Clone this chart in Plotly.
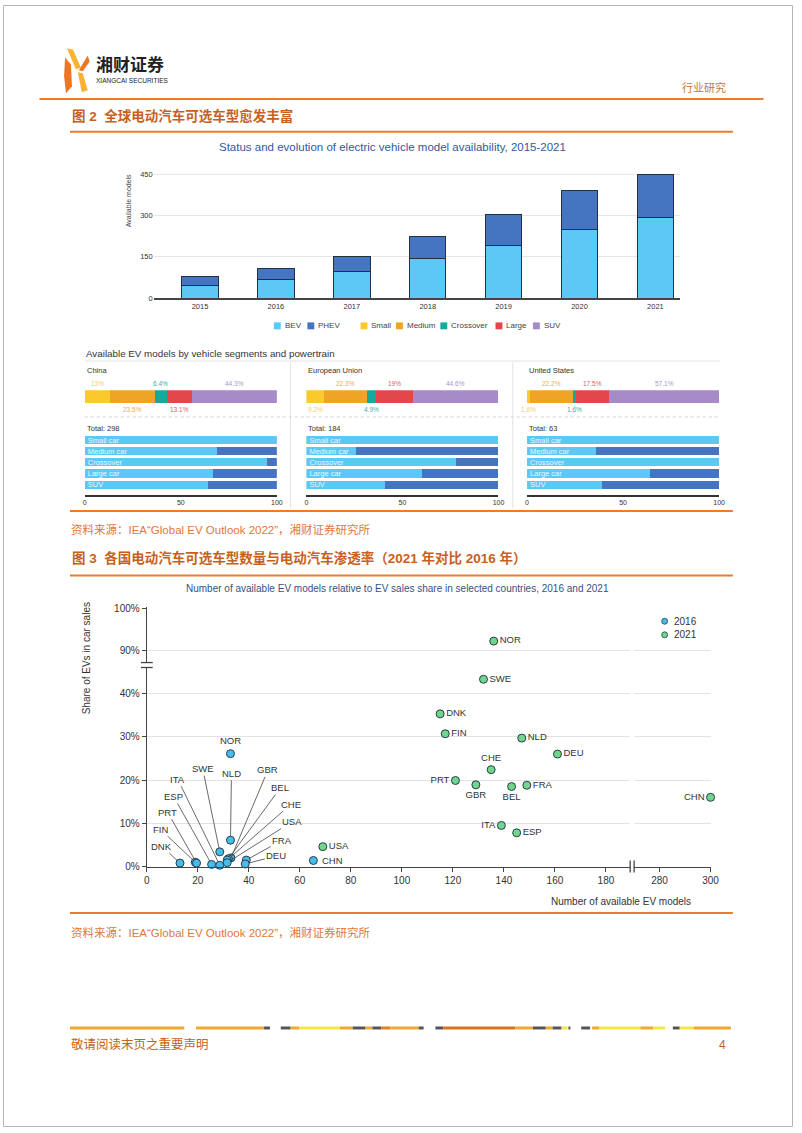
import plotly.graph_objects as go

# ---------------- data ----------------
years = ["2015", "2016", "2017", "2018", "2019", "2020", "2021"]
bev_models = [47, 68, 96, 142, 189, 249, 291]
phev_models = [32, 41, 56, 80, 116, 142, 159]

segments = ["Small", "Medium", "Crossover", "Large", "SUV"]
regions = ["China", "European Union", "United States"]
share_china = [13, 23.5, 6.4, 13.1, 44.3]
share_eu = [9.2, 22.3, 4.9, 19, 44.6]
share_us = [1.6, 22.2, 1.6, 17.5, 57.1]
totals = [298, 184, 63]

row_labels = ["Small car", "Medium car", "Crossover", "Large car", "SUV"]
bev_pct_china = [100, 69, 95, 67, 64]
bev_pct_eu = [100, 26, 78, 60, 41]
bev_pct_us = [100, 36, 100, 64, 39]

countries_2016 = ["DNK", "FIN", "PRT", "ESP", "ITA", "SWE", "NLD", "GBR", "BEL", "CHE", "USA", "FRA", "DEU", "NOR", "CHN"]
models_2016 = [13, 19, 19.5, 25.4, 28.6, 28.6, 32.8, 33, 32, 31.5, 31.5, 39, 38.6, 32.8, 65.3]
share_2016 = [0.8, 1.0, 0.8, 0.5, 0.3, 3.4, 6.1, 2.0, 1.8, 1.5, 0.9, 1.5, 0.6, 26.1, 1.4]

countries_2021 = ["NOR", "SWE", "DNK", "FIN", "NLD", "DEU", "CHE", "PRT", "GBR", "BEL", "FRA", "CHN", "ITA", "ESP", "USA"]
models_2021 = [136, 132, 115, 117, 147, 161, 135, 121, 129, 143, 149, 300, 139, 145, 69]
share_2021 = [92.3, 43.3, 35.3, 30.7, 29.7, 26.0, 22.4, 19.9, 18.9, 18.5, 18.8, 16.0, 9.5, 7.8, 4.6]

share_ticks_low = [0, 10, 20, 30, 40]
share_ticks_high = [90, 100]
model_ticks_low = [0, 20, 40, 60, 80, 100, 120, 140, 160, 180]
model_ticks_high = [280, 300]

# ---------------- styles ----------------
W, H = 802, 1133
FONT = "Liberation Sans, Arial, sans-serif"
CJK = "Liberation Sans, Noto Sans CJK SC, sans-serif"
ORANGE = "#EC7B2B"
HEAD = "#C85F22"
BEV_C, PHEV_C = "#5BC8F5", "#4575C0"
SEG_C = ["#FAC92C", "#F0A425", "#16A898", "#E3474B", "#A68BC8"]
SEG_TXT = ["#F4CF5A", "#F0AA45", "#2DB5A6", "#E65A62", "#A996CF"]
C16, C21 = "#45BDEB", "#6FD68E"
share_sides = [["up", "down", "up", "down", "up"],
               ["down", "up", "down", "up", "up"],
               ["down", "up", "down", "up", "up"]]
pos_2021 = {"NOR": "middle right", "SWE": "middle right", "DNK": "middle right", "FIN": "middle right",
            "NLD": "middle right", "DEU": "middle right", "CHE": "top center", "PRT": "middle left",
            "GBR": "bottom center", "BEL": "bottom center", "FRA": "middle right", "CHN": "middle left",
            "ITA": "middle left", "ESP": "middle right", "USA": "middle right"}
# label offsets (pixels) for 2016 leader lines
off_2016 = {"DNK": (-18, -17), "FIN": (-35, -33), "PRT": (-29, -51), "ESP": (-38, -68), "ITA": (-42, -86),
            "SWE": (-17, -83), "NLD": (1, -67), "GBR": (37, -88), "BEL": (52, -71), "CHE": (64, -56),
            "USA": (65, -41), "FRA": (36, -20), "DEU": (31, -8)}


def dom_x(a, b):
    return [a / W, b / W]


def dom_y(top, bottom):
    return [1 - bottom / H, 1 - top / H]


shapes, ann = [], []


def txt(x, y, s, size, color="#333", xanchor="left", yanchor="middle", family=FONT, angle=0):
    ann.append(dict(x=x / W, y=1 - y / H, xref="paper", yref="paper", text=s, showarrow=False,
                    xanchor=xanchor, yanchor=yanchor, textangle=angle,
                    font=dict(size=size, color=color, family=family)))


def line(x0, y0, x1, y1, color, width=1, dash="solid"):
    shapes.append(dict(type="line", xref="paper", yref="paper", x0=x0 / W, y0=1 - y0 / H,
                       x1=x1 / W, y1=1 - y1 / H, line=dict(color=color, width=width, dash=dash)))


def rect(x0, y0, x1, y1, fill, lc=None, lw=0):
    shapes.append(dict(type="rect", xref="paper", yref="paper", x0=x0 / W, y0=1 - y0 / H,
                       x1=x1 / W, y1=1 - y1 / H, fillcolor=fill,
                       line=dict(color=lc or fill, width=lw)))


def circ(cx, cy, r, fill, lc):
    shapes.append(dict(type="circle", xref="paper", yref="paper", x0=(cx - r) / W, y0=1 - (cy + r) / H,
                       x1=(cx + r) / W, y1=1 - (cy - r) / H, fillcolor=fill, line=dict(color=lc, width=0.8)))


def poly(points, color):
    d = "M " + " L ".join(f"{x / W:.5f},{1 - y / H:.5f}" for x, y in points) + " Z"
    shapes.append(dict(type="path", xref="paper", yref="paper", path=d, fillcolor=color, line=dict(width=0)))


fig = go.Figure()

# ---------------- top bar chart ----------------
xs = list(range(len(years)))
fig.add_trace(go.Bar(x=xs, y=bev_models, width=0.48, name="BEV",
                     marker=dict(color=BEV_C, line=dict(color="#22303f", width=1)), xaxis="x", yaxis="y"))
fig.add_trace(go.Bar(x=xs, y=phev_models, width=0.48, name="PHEV",
                     marker=dict(color=PHEV_C, line=dict(color="#22303f", width=1)), xaxis="x", yaxis="y"))

# ---------------- share bars & powertrain bars ----------------
shares = [share_china, share_eu, share_us]
bev_pcts = [bev_pct_china, bev_pct_eu, bev_pct_us]
panel_x = [(83, 278), (308, 503), (532, 727)]
for i in range(3):
    k = 2 + i
    for j in range(5):
        fig.add_trace(go.Bar(x=[shares[i][j]], y=[0], orientation="h", width=1, name=segments[j],
                             marker=dict(color=SEG_C[j], line=dict(width=0)),
                             xaxis=f"x{k}", yaxis=f"y{k}"))
    cum = 0
    for j, v in enumerate(shares[i]):
        mid = cum + v / 2
        cum += v
        up = share_sides[i][j] == "up"
        ann.append(dict(x=mid, y=0.5 if up else -0.5, xref=f"x{k}", yref=f"y{k}", text=f"{v:g}%",
                        showarrow=False, xanchor="center", yanchor="bottom" if up else "top",
                        yshift=1 if up else -1, font=dict(size=6.5, color=SEG_TXT[j], family=FONT)))
    k2 = 5 + i
    fig.add_trace(go.Bar(x=bev_pcts[i], y=list(range(5)), orientation="h", width=0.73, name="BEV",
                         marker=dict(color=BEV_C, line=dict(width=0)), text=row_labels,
                         textposition="inside", insidetextanchor="start", textangle=0, constraintext="none",
                         textfont=dict(color="#EAF7FD", size=7.5, family=FONT),
                         xaxis=f"x{k2}", yaxis=f"y{k2}"))
    fig.add_trace(go.Bar(x=[100 - v for v in bev_pcts[i]], y=list(range(5)), orientation="h", width=0.73,
                         name="PHEV", marker=dict(color=PHEV_C, line=dict(width=0)),
                         xaxis=f"x{k2}", yaxis=f"y{k2}"))
    txt(panel_x[i][0], 369, regions[i], 7.5, "#333")
    txt(panel_x[i][0], 428, f"Total: {totals[i]}", 7.5, "#333")

# ---------------- scatter ----------------
fig.add_trace(go.Scatter(x=models_2016, y=share_2016, mode="markers", name="2016", cliponaxis=False,
                         marker=dict(size=8, color=C16, line=dict(color="#2a3d47", width=1)),
                         xaxis="x8", yaxis="y8"))
for c, m, s in zip(countries_2016, models_2016, share_2016):
    if c in off_2016:
        dx, dy = off_2016[c]
        ann.append(dict(x=m, y=s, xref="x8", yref="y8", text=c, showarrow=True, arrowhead=0,
                        arrowwidth=0.8, arrowcolor="#444", ax=dx, ay=dy, standoff=4,
                        font=dict(size=9.5, color="#333", family=FONT)))
    elif c == "NOR":
        ann.append(dict(x=m, y=s, xref="x8", yref="y8", text=c, showarrow=False, yanchor="bottom",
                        yshift=6, font=dict(size=9.5, color="#333", family=FONT)))
    else:
        ann.append(dict(x=m, y=s, xref="x8", yref="y8", text=c, showarrow=False, xanchor="left",
                        xshift=7, font=dict(size=9.5, color="#333", family=FONT)))

groups = {}
for c, m, s in zip(countries_2021, models_2021, share_2021):
    key = ("x9" if m > 200 else "x8", "y9" if s > 60 else "y8")
    groups.setdefault(key, []).append((c, m, s))
for (xa, ya), pts in groups.items():
    fig.add_trace(go.Scatter(x=[p[1] for p in pts], y=[p[2] for p in pts], text=[p[0] for p in pts],
                             mode="markers+text", textposition=[pos_2021[p[0]] for p in pts],
                             textfont=dict(size=9.5, color="#333", family=FONT), cliponaxis=False,
                             marker=dict(size=8, color=C21, line=dict(color="#2a3d47", width=1)),
                             name="2021", xaxis=xa, yaxis=ya))
fig.add_trace(go.Scatter(x=[], y=[], mode="markers", xaxis="x9", yaxis="y9", hoverinfo="skip"))

# ---------------- decorations / page text ----------------
rect(0.5, 0.5, W - 0.5, H - 0.5, "rgba(0,0,0,0)", "#b5b5b5", 1)
# logo
poly([(65, 44), (71, 45), (79, 63), (74, 65)], "#F9B233")
poly([(63, 53), (69, 60), (70, 82), (64, 89), (62, 72)], "#EE7623")
poly([(86, 51), (88, 57), (81, 67), (77, 66)], "#EE7623")
poly([(76, 68), (81, 69), (86, 86), (80, 88)], "#F9B233")
txt(92, 61, "<b>湘财证券</b>", 17, "#222", family=CJK)
txt(92, 76, "XIANGCAI SECURITIES", 6.5, "#222")
txt(736, 83, "行业研究", 11, "#C8763C", xanchor="right", family=CJK)

line(37, 95, 772, 95, ORANGE, 2)
txt(68, 112, "<b>图 2  全球电动汽车可选车型愈发丰富</b>", 13.5, HEAD, family=CJK)
line(68, 128, 741, 128, ORANGE, 2)
txt(395, 143, "Status and evolution of electric vehicle model availability, 2015-2021", 11.5, "#34589A",
    xanchor="center")
txt(127, 198, "Available models", 7, "#444", xanchor="center", angle=-90)

# legend for top section
leg = [("BEV", BEV_C, 275), ("PHEV", PHEV_C, 309), ("Small", SEG_C[0], 363), ("Medium", SEG_C[1], 399),
       ("Crossover", SEG_C[2], 444), ("Large", SEG_C[3], 500), ("SUV", SEG_C[4], 538)]
for name, col, x0 in leg:
    rect(x0, 320.5, x0 + 7, 327.5, col)
    txt(x0 + 9, 324, name, 8, "#444")

txt(82, 352, "Available EV models by vehicle segments and powertrain", 9.8, "#333")
line(83, 359.5, 728, 359.5, "#e2e2e2", 1)
line(292, 361, 292, 508, "#e2e2e2", 1)
line(517.5, 361, 517.5, 508, "#e2e2e2", 1)
line(83, 416, 728, 416, "#d5d5d5", 1, "dot")

line(68, 511, 741, 511, ORANGE, 2)
txt(67, 530, "资料来源：IEA“Global EV Outlook 2022”，湘财证券研究所", 11.5, "#E0783A", family=CJK)
txt(68, 558, "<b>图 3  各国电动汽车可选车型数量与电动汽车渗透率（2021 年对比 2016 年）</b>", 13.5, HEAD, family=CJK)
line(68, 576, 741, 576, ORANGE, 2)
txt(400, 589, "Number of available EV models relative to EV sales share in selected countries, 2016 and 2021",
    10, "#3a5080", xanchor="center")
txt(85, 660, "Share of EVs in car sales", 10, "#333", xanchor="center", angle=-90)
txt(627, 905, "Number of available EV models", 10, "#333", xanchor="center")
# axis break marks
line(140, 664, 152, 664, "#444", 1.3)
line(140, 669, 152, 669, "#444", 1.3)
line(636.7, 864, 636.7, 876, "#444", 1.3)
line(640.7, 864, 640.7, 876, "#444", 1.3)
# scatter legend
circ(671.7, 622.3, 3, C16, "#2a3d47")
circ(671.7, 636, 3, C21, "#2a3d47")
txt(679, 622.3, "2016", 10, "#333")
txt(679, 636, "2021", 10, "#333")

line(68, 917, 741, 917, ORANGE, 2)
txt(67, 937, "资料来源：IEA“Global EV Outlook 2022”，湘财证券研究所", 11.5, "#E0783A", family=CJK)

footer_segments = [
    (68, 184, "#F0A830"), (196, 265, "#F0A830"), (265, 271, "#555"),
    (282, 292, "#555"), (292, 301, "#F0A830"), (301, 342, "#F5E642"), (342, 355, "#F0A830"),
    (355, 368, "#555"), (368, 375, "#F0A830"), (375, 384, "#555"), (384, 393, "#E08020"),
    (393, 422, "#F0A830"), (422, 427, "#555"),
    (439, 447, "#555"), (447, 520, "#D9731F"), (520, 538, "#F0A830"), (538, 551, "#555"),
    (551, 558, "#F0A830"), (558, 567, "#555"), (567, 573, "#F5E642"), (574, 576, "#555"),
    (587, 596, "#555"), (598, 605, "#F0A830"), (605, 647, "#F5E642"), (647, 660, "#F0A830"),
    (660, 672, "#F5E642"),
    (680, 687, "#555"), (687, 701, "#F5E642"), (701, 739, "#F0A830")]
for a, b, col in footer_segments:
    rect(a, 1031.5, b, 1034.5, col)
txt(67, 1050, "敬请阅读末页之重要声明", 12.5, HEAD, family=CJK)
txt(736, 1050, "4", 12, HEAD, xanchor="right", family=CJK)

# ---------------- axes ----------------
tf = lambda s: dict(size=s, color="#333", family=FONT)
hidden = dict(visible=False, showgrid=False, zeroline=False, fixedrange=True)
axes = dict(
    xaxis=dict(domain=dom_x(153, 687), range=[-0.61, 6.32], tickvals=xs, ticktext=years, showline=True,
               linecolor="#444", linewidth=1.5, ticks="", showgrid=False, zeroline=False,
               tickfont=tf(7.5), anchor="y"),
    yaxis=dict(domain=dom_y(167.9, 296), range=[0, 460], tickvals=[0, 150, 300, 450], showgrid=True,
               gridcolor="#e6e6e6", zeroline=False, showline=False, ticks="", tickfont=tf(7.5), anchor="x"),
)
for i in range(3):
    k, k2 = 2 + i, 5 + i
    axes[f"xaxis{k}"] = dict(domain=dom_x(*panel_x[i]), range=[0, sum(shares[i])], anchor=f"y{k}", **hidden)
    axes[f"yaxis{k}"] = dict(domain=dom_y(389, 402), range=[-0.5, 0.5], anchor=f"x{k}", **hidden)
    axes[f"xaxis{k2}"] = dict(domain=dom_x(*panel_x[i]), range=[0, 100], tickvals=[0, 50, 100], showline=True,
                              linecolor="#333", linewidth=2, showgrid=False, zeroline=False, ticks="",
                              tickfont=tf(7), anchor=f"y{k2}")
    axes[f"yaxis{k2}"] = dict(domain=dom_y(433.9, 494.4), range=[4.9, -0.5], anchor=f"x{k2}", **hidden)

sc_x = dict(showline=True, linecolor="#444", linewidth=1.3, ticks="outside", ticklen=4, tickcolor="#444",
            showgrid=False, zeroline=False, tickfont=tf(10), anchor="y8")
sc_y = dict(showline=True, linecolor="#444", linewidth=1.3, ticks="outside", ticklen=4, tickcolor="#444",
            showgrid=True, gridcolor="#e3e3e3", zeroline=False, tickfont=tf(10), anchor="x8")
axes["xaxis8"] = dict(domain=dom_x(146, 636.7), range=[0, 189.5], tickvals=model_ticks_low, **sc_x)
axes["xaxis9"] = dict(domain=dom_x(640.7, 718.3), range=[270, 300], tickvals=model_ticks_high, **sc_x)
axes["yaxis8"] = dict(domain=dom_y(669, 870), range=[0, 46.02], tickvals=share_ticks_low,
                      ticktext=[f"{v}%" for v in share_ticks_low], **sc_y)
axes["yaxis9"] = dict(domain=dom_y(608.1, 664), range=[87.3, 100.2], tickvals=share_ticks_high,
                      ticktext=[f"{v}%" for v in share_ticks_high], **sc_y)

fig.update_layout(
    width=W, height=H, margin=dict(l=0, r=0, t=0, b=0), paper_bgcolor="white",
    plot_bgcolor="rgba(0,0,0,0)", barmode="stack", showlegend=False, font=dict(family=FONT),
    shapes=shapes, annotations=ann, **axes)

fig.write_html("out.html", config={"displayModeBar": False})
